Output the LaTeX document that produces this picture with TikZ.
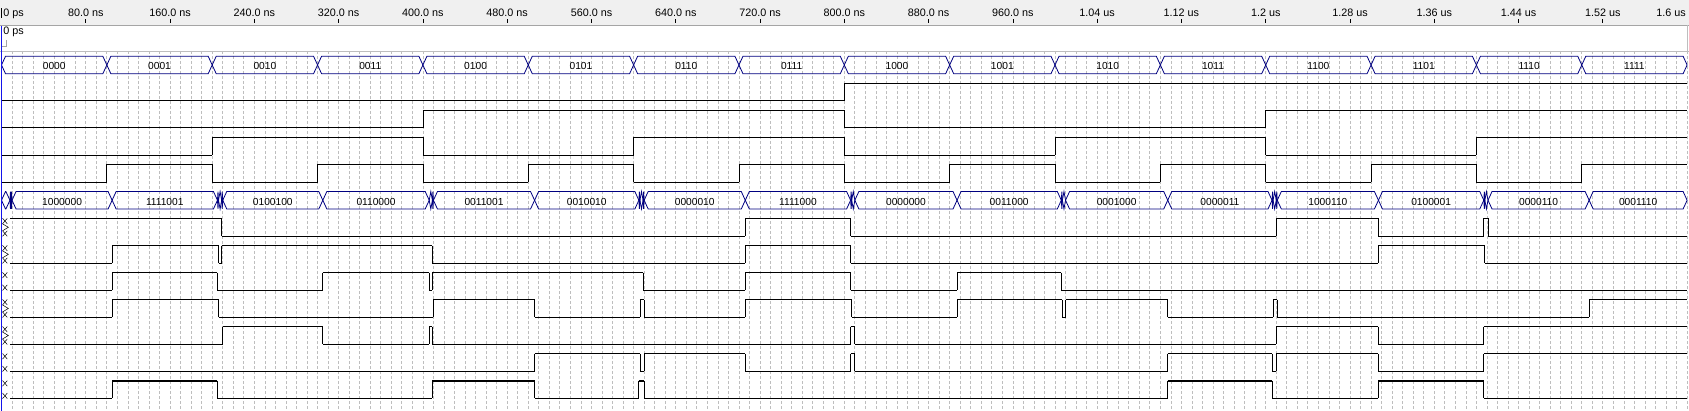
\documentclass[tikz,border=0pt]{standalone}
\usepackage{fontspec}
\setmainfont{Liberation Sans}

\definecolor{busblue}{RGB}{0,0,128}
\definecolor{cursorblue}{RGB}{20,20,235}
\definecolor{gridgray}{RGB}{190,190,190}
\definecolor{headgray}{RGB}{240,240,240}
\definecolor{headline}{RGB}{165,165,165}

% one bus value: start, end, row centre, label ('-' = none), name prefix
\newcommand{\busseg}[5]{%
  \pgfmathsetmacro{\bh}{min(3.8,(#2-#1)/2)}%
  \draw[bus] (#1,#3) -- ({#1+\bh},{#3-8.7}) -- ({#2-\bh},{#3-8.7}) -- (#2,#3)
    -- ({#2-\bh},{#3+8.7}) -- ({#1+\bh},{#3+8.7}) -- cycle;
  \edef\buslab{#4}%
  \ifx\buslab\nolab\else
    \node[buslabel] (#5-\buslab) at ({(#1+#2)/2},{#3+4.8}) {\buslab};
  \fi
}
\def\nolab{-}

% one bit: row centre, start time, start level, toggle times
\newcommand{\sigwave}[4]{%
  \edef\wavelist{#4,1600}%
  \foreach \t [remember=\t as \tp (initially #2), count=\i] in \wavelist {%
    \pgfmathtruncatemacro{\lv}{mod(#3+\i-1,2)}%
    \ifnum\i>1 \draw[edge] (\tp,{#1-8.8}) -- (\tp,{#1+8.8});\fi
    \ifnum\lv=1 \draw[hi] (\tp,{#1-8.8}) -- (\t,{#1-8.8});%
    \else \draw[lo] (\tp,{#1+8.8}) -- (\t,{#1+8.8});\fi
  }%
}

\begin{document}
\begin{tikzpicture}[
    x=1.0535pt, y=-1pt,
    grid/.style={draw=gridgray,line width=0.75pt,dash pattern=on 3pt off 2pt},
    lo/.style={line width=0.8pt},
    hi/.style={line width=1.45pt},
    edge/.style={line width=0.8pt},
    bus/.style={draw=busblue,line width=0.8pt,line join=miter},
    buslabel/.style={font=\fontsize{10.2}{12}\selectfont,inner sep=0pt,anchor=base},
    ticklabel/.style={font=\fontsize{10.8}{12}\selectfont,inner sep=0pt,anchor=base},
    unknown/.style={line width=0.5pt}
]
\useasboundingbox (-1.424,0) rectangle (1601.8,411);

% ------------------------------------------------
% Time ruler
% ------------------------------------------------
\fill[headgray] (-1.424,0) rectangle (1601.8,25);
\draw[headline,line width=0.8pt] (-1.424,25) -- (1601.8,25);
\draw[line width=0.6pt] (0,8.5) -- (0,18.5);
\node[ticklabel,anchor=base west] (tick0) at (1.5,16.7) {0 ps};
\foreach \t/\lab in {80/80.0 ns,160/160.0 ns,240/240.0 ns,320/320.0 ns,
    400/400.0 ns,480/480.0 ns,560/560.0 ns,640/640.0 ns,720/720.0 ns,
    800/800.0 ns,880/880.0 ns,960/960.0 ns,1040/1.04 us,1120/1.12 us,
    1200/1.2 us,1280/1.28 us,1360/1.36 us,1440/1.44 us,1520/1.52 us} {
    \node[ticklabel] (tick\t) at (\t,16.7) {\lab};
    \draw[line width=0.7pt] (\t,19.3) -- (\t,23.5);
}
\node[ticklabel,anchor=base east] (tick1600) at (1598.9,16.7) {1.6 us};

% cursor label strip
\node[ticklabel,anchor=base west] (cursor0) at (1.5,35) {0 ps};
\draw[headline,line width=0.7pt] (0,46) -- (4.7,46) -- (4.7,40.5);
\draw[gridgray,line width=0.8pt] (-1.424,51) -- (1601.8,51);
\draw[gridgray,line width=0.6pt] (1600,25) -- (1600,51);

% ------------------------------------------------
% Grid, every 10 ns
% ------------------------------------------------
\foreach \t in {10,20,...,1600}
    \draw[grid] (\t,51) -- (\t,411);

% ------------------------------------------------
% Counter bus and its four bits
% ------------------------------------------------
\foreach \a/\b/\v in {0/100/0000,100/200/0001,200/300/0010,300/400/0011,
    400/500/0100,500/600/0101,600/700/0110,700/800/0111,800/900/1000,
    900/1000/1001,1000/1100/1010,1100/1200/1011,1200/1300/1100,
    1300/1400/1101,1400/1500/1110,1500/1600/1111}
    {\busseg{\a}{\b}{65}{\v}{cnt}}

\sigwave{92.05}{0}{0}{800}
\sigwave{119.1}{0}{0}{400,800,1200}
\sigwave{146.15}{0}{0}{200,400,...,1400}
\sigwave{173.2}{0}{0}{100,200,...,1500}

% ------------------------------------------------
% Seven-segment bus (with glitches) and its seven bits
% ------------------------------------------------
\foreach \a/\b/\v in {0/8/-,8/9/-,9/10/-,10/105/1000000,105/205/1111001,
    205/206/-,206/209/-,209/210/-,210/305/0100100,305/406/0110000,
    406/409/-,409/410/-,410/506/0011001,506/605/0010010,605/606/-,
    606/609/-,609/610/-,610/706/0000010,706/806/1111000,806/807/-,
    807/810/-,810/907/0000000,907/1006/0011000,1006/1007/-,1007/1010/-,
    1010/1107/0001000,1107/1206/0000011,1206/1207/-,1207/1210/-,
    1210/1211/-,1211/1307/1000110,1307/1407/0100001,1407/1408/-,
    1408/1411/-,1411/1507/0000110,1507/1600/0001110}
    {\busseg{\a}{\b}{200.25}{\v}{seg}}

\sigwave{227.3}{8}{1}{209,706,806,1210,1307,1407,1411}
\sigwave{254.35}{8}{0}{105,206,209,409,706,806,1307,1408}
\sigwave{281.4}{8}{0}{105,205,305,406,409,609,706,806,907,1006}
\sigwave{308.45}{8}{0}{105,206,410,506,606,610,706,807,907,1007,1010,1107,1207,1211,1507}
\sigwave{335.5}{8}{0}{210,305,406,409,806,810,1210,1307,1407}
\sigwave{362.55}{8}{0}{506,606,610,706,806,810,1107,1206,1210,1307,1407}
\sigwave{389.6}{8}{0}{105,205,409,506,605,610,1107,1206,1307,1407}

% unknown value before the first output
\foreach \yc/\arr in {227.3/1,254.35/1,281.4/0,308.45/1,335.5/1,362.55/0,389.6/0} {
    \draw[unknown] (1,{\yc-9}) -- (5.5,{\yc-3.5}) (5.5,{\yc-9}) -- (1,{\yc-3.5})
        (1,{\yc+3.5}) -- (5.5,{\yc+9}) (5.5,{\yc+3.5}) -- (1,{\yc+9});
    \ifnum\arr=1 \draw[unknown] (1,{\yc-3.5}) -- (6.5,\yc) -- (1,{\yc+3.5});\fi
}

% ------------------------------------------------
% Time cursor at 0 ps
% ------------------------------------------------
\draw[cursorblue,line width=1.3pt] (0,26) -- (0,411);

\end{tikzpicture}
\end{document}
